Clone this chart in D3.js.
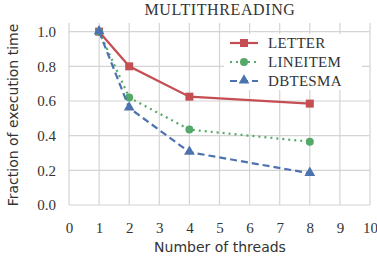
<!DOCTYPE html>
<meta charset="utf-8">
<style>
body { margin: 0; background: #fff; }
.grid line { stroke: #d4d4d4; stroke-width: 1.2px; }
</style>
<svg width="377" height="267"></svg>
<script src="https://d3js.org/d3.v7.min.js"></script>
<script>

var threads = [1, 2, 4, 8];
var letter = [1.0, 0.80, 0.625, 0.585];
var lineitem = [1.0, 0.62, 0.435, 0.365];
var dbtesma = [1.0, 0.56, 0.305, 0.183];
var xTicks = [0, 1, 2, 3, 4, 5, 6, 7, 8, 9, 10];
var yTicks = [0, 0.2, 0.4, 0.6, 0.8, 1.0];

var series = [
  { name: "LETTER", values: letter, color: "#c44e52", dash: null, marker: "square" },
  { name: "LINEITEM", values: lineitem, color: "#55a868", dash: "2,4", marker: "circle" },
  { name: "DBTESMA", values: dbtesma, color: "#4c72b0", dash: "7,4", marker: "triangle" }
];

var serif = "'Liberation Serif', 'DejaVu Serif', serif";
var sans = "'DejaVu Sans', sans-serif";

var svg = d3.select("svg"),
    pLeft = 69, pRight = 370, pTop = 23, pBottom = 205;

var x = d3.scaleLinear().domain([0, 10]).range([pLeft, pRight]);
var y = d3.scaleLinear().domain([0, 1.05]).range([pBottom, pTop]);

// grid
var grid = svg.append("g").attr("class", "grid");
grid.selectAll(".vx").data(xTicks).enter().append("line")
    .attr("x1", d => x(d)).attr("x2", d => x(d))
    .attr("y1", pTop).attr("y2", pBottom);
grid.selectAll(".hy").data(yTicks).enter().append("line")
    .attr("x1", pLeft).attr("x2", pRight)
    .attr("y1", d => y(d)).attr("y2", d => y(d));

// axes (labels only)
svg.append("g").attr("transform", "translate(0," + pBottom + ")")
    .call(d3.axisBottom(x).tickValues(xTicks).tickSize(0).tickPadding(17));
svg.append("g").attr("transform", "translate(" + pLeft + ",0)")
    .call(d3.axisLeft(y).tickValues(yTicks).tickSize(0).tickPadding(13).tickFormat(d3.format(".1f")));
svg.selectAll(".domain").remove();
svg.selectAll(".tick text")
    .style("font-family", serif).style("font-size", "15px").style("fill", "#333");

svg.append("text")
    .attr("x", 220).attr("y", 15).attr("text-anchor", "middle")
    .style("font-family", serif).style("font-size", "16px").style("fill", "#333")
    .style("letter-spacing", "0.6px")
    .text("MULTITHREADING");

svg.append("text")
    .attr("x", 220).attr("y", 252).attr("text-anchor", "middle")
    .style("font-family", sans).style("font-size", "14px").style("fill", "#333")
    .text("Number of threads");

svg.append("text")
    .attr("transform", "translate(18," + 115 + ") rotate(-90)")
    .attr("text-anchor", "middle")
    .style("font-family", sans).style("font-size", "14px").style("fill", "#333")
    .text("Fraction of execution time");

var line = d3.line().x(d => x(d[0])).y(d => y(d[1]));

function marker(g, type, cx, cy, color) {
  if (type === "square") {
    g.append("rect").attr("x", cx - 4).attr("y", cy - 4).attr("width", 8).attr("height", 8).attr("fill", color);
  } else if (type === "circle") {
    g.append("circle").attr("cx", cx).attr("cy", cy).attr("r", 4).attr("fill", color);
  } else {
    g.append("path").attr("d", d3.symbol().type(d3.symbolTriangle).size(50)())
      .attr("transform", "translate(" + cx + "," + (cy - 0.5) + ")").attr("fill", color);
  }
}

series.forEach(function(s) {
  var pts = threads.map((t, i) => [t, s.values[i]]);
  var g = svg.append("g");
  g.append("path").datum(pts).attr("d", line)
      .attr("fill", "none").attr("stroke", s.color).attr("stroke-width", 2.2)
      .attr("stroke-dasharray", s.dash);
  pts.forEach(p => marker(g, s.marker, x(p[0]), y(p[1]), s.color));
});

// legend
var lg = svg.append("g");
lg.append("rect").attr("x", 224).attr("y", 34).attr("width", 138).attr("height", 56).attr("fill", "#fff");
series.forEach(function(s, i) {
  var yy = 43 + i * 19;
  lg.append("line").attr("x1", 230).attr("x2", 258).attr("y1", yy).attr("y2", yy)
      .attr("stroke", s.color).attr("stroke-width", 2.2).attr("stroke-dasharray", s.dash);
  marker(lg, s.marker, 244, yy, s.color);
  lg.append("text").attr("x", 268).attr("y", yy + 5)
      .style("font-family", serif).style("font-size", "15px").style("fill", "#333")
      .style("letter-spacing", "0.3px")
      .text(s.name);
});

</script>
